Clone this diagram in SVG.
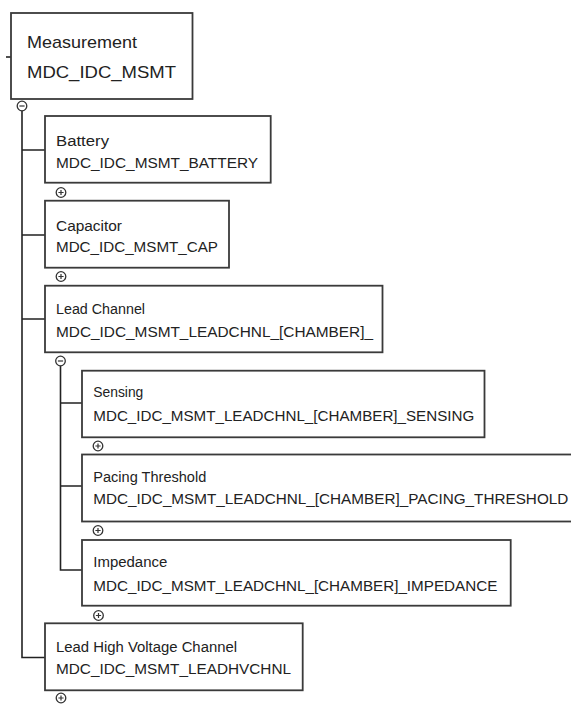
<svg xmlns="http://www.w3.org/2000/svg" width="571" height="704" viewBox="0 0 571 704">
<style>
.box{fill:#fff;stroke:#3a3a3a;stroke-width:1.8}
.t{font-family:"Liberation Sans",Arial,sans-serif;font-size:14px;fill:#222}
.tr{font-family:"Liberation Sans",Arial,sans-serif;font-size:17px;fill:#222}
.ln{fill:none;stroke:#222;stroke-width:1.6}
.tg{fill:#fff;stroke:#333;stroke-width:1.3}
.tgs{stroke:#333;stroke-width:1.2}
</style>
<defs>
<g id="plus"><circle class="tg" r="4.8"/><path class="tgs" d="M-2.6 0H2.6M0 -2.6V2.6"/></g>
<g id="minus"><circle class="tg" r="4.8"/><path class="tgs" d="M-2.6 0H2.6"/></g>
</defs>
<g id="connectors">
<path class="ln" d="M6 57H11"/>
<path class="ln" d="M22 110V657.5H45M22 150H45M22 235H45M22 319H45"/>
<path class="ln" d="M60.5 365V570H82M60.5 403H82M60.5 486H82"/>
</g>
<g id="root">
<rect class="box" x="11" y="13" width="181.5" height="86"/>
<text class="tr" x="27" y="48" textLength="110" lengthAdjust="spacingAndGlyphs">Measurement</text>
<text class="tr" x="27" y="78" textLength="149" lengthAdjust="spacingAndGlyphs">MDC_IDC_MSMT</text>
<use href="#minus" x="22" y="106"/>
</g>
<g id="battery">
<rect class="box" x="45" y="116" width="225.7" height="66.7"/>
<text class="t" x="56" y="146" textLength="53" lengthAdjust="spacingAndGlyphs">Battery</text>
<text class="t" x="56" y="167.5" textLength="202" lengthAdjust="spacingAndGlyphs">MDC_IDC_MSMT_BATTERY</text>
<use href="#plus" x="61" y="192.5"/>
</g>
<g id="capacitor">
<rect class="box" x="45" y="200.7" width="184" height="67"/>
<text class="t" x="56" y="230.5" textLength="66" lengthAdjust="spacingAndGlyphs">Capacitor</text>
<text class="t" x="56" y="252" textLength="162" lengthAdjust="spacingAndGlyphs">MDC_IDC_MSMT_CAP</text>
<use href="#plus" x="61" y="276.5"/>
</g>
<g id="leadchannel">
<rect class="box" x="45" y="285.7" width="337.5" height="66.6"/>
<text class="t" x="56" y="314" textLength="89" lengthAdjust="spacingAndGlyphs">Lead Channel</text>
<text class="t" x="56" y="337" textLength="317" lengthAdjust="spacingAndGlyphs">MDC_IDC_MSMT_LEADCHNL_[CHAMBER]_</text>
<use href="#minus" x="60.5" y="361"/>
</g>
<g id="sensing">
<rect class="box" x="82" y="370.7" width="402.5" height="66.6"/>
<text class="t" x="93.3" y="397" textLength="50" lengthAdjust="spacingAndGlyphs">Sensing</text>
<text class="t" x="93.3" y="421" textLength="381" lengthAdjust="spacingAndGlyphs">MDC_IDC_MSMT_LEADCHNL_[CHAMBER]_SENSING</text>
<use href="#plus" x="98" y="446"/>
</g>
<g id="pacing">
<rect class="box" x="82" y="454.5" width="500" height="67"/>
<text class="t" x="93.3" y="482" textLength="113" lengthAdjust="spacingAndGlyphs">Pacing Threshold</text>
<text class="t" x="93.3" y="504" textLength="475" lengthAdjust="spacingAndGlyphs">MDC_IDC_MSMT_LEADCHNL_[CHAMBER]_PACING_THRESHOLD</text>
<use href="#plus" x="98" y="530.5"/>
</g>
<g id="impedance">
<rect class="box" x="82" y="540" width="428.7" height="65.7"/>
<text class="t" x="93.3" y="567" textLength="74" lengthAdjust="spacingAndGlyphs">Impedance</text>
<text class="t" x="93.3" y="590.5" textLength="404" lengthAdjust="spacingAndGlyphs">MDC_IDC_MSMT_LEADCHNL_[CHAMBER]_IMPEDANCE</text>
<use href="#plus" x="98.5" y="615.5"/>
</g>
<g id="leadhv">
<rect class="box" x="45" y="623.3" width="257.7" height="67"/>
<text class="t" x="56" y="652" textLength="181" lengthAdjust="spacingAndGlyphs">Lead High Voltage Channel</text>
<text class="t" x="56" y="674" textLength="235" lengthAdjust="spacingAndGlyphs">MDC_IDC_MSMT_LEADHVCHNL</text>
<use href="#plus" x="61" y="698"/>
</g>
</svg>
